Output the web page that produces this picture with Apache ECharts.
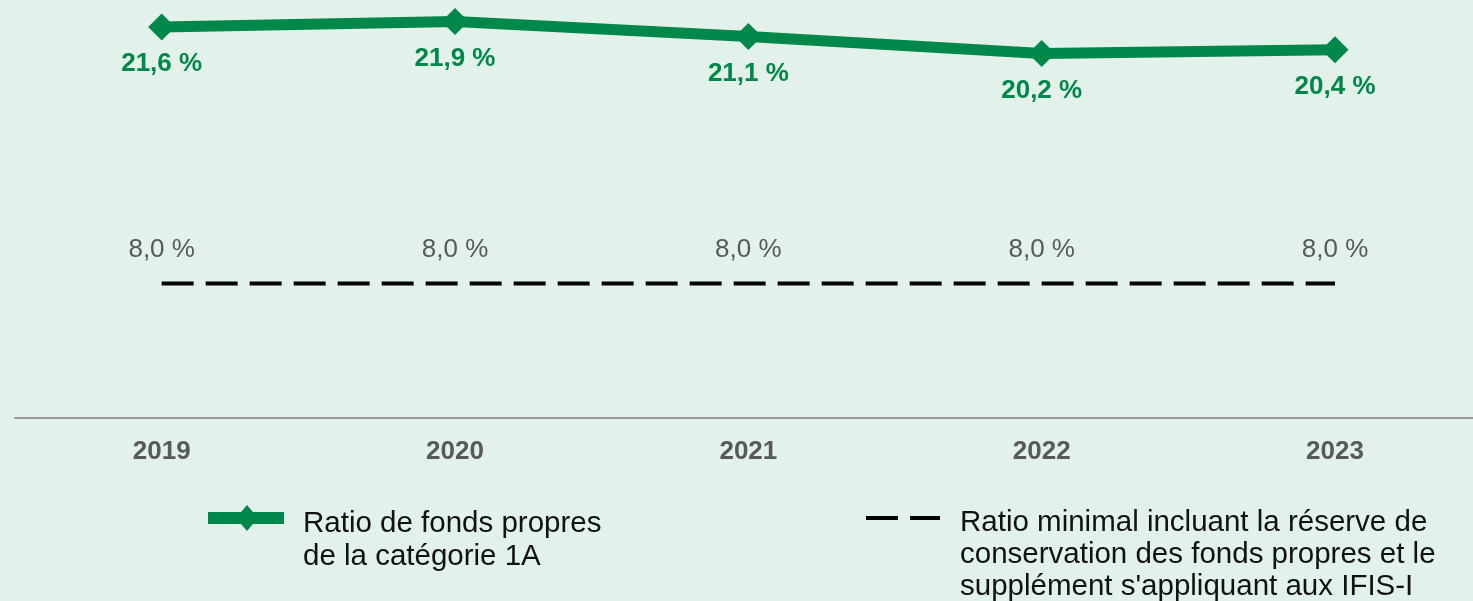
<!DOCTYPE html>
<html>
<head>
<meta charset="utf-8">
<script src="https://cdn.jsdelivr.net/npm/echarts@6/dist/echarts.min.js"></script>
<style>
html,body{margin:0;padding:0;background:#e2f1ea;}
#c{width:1473px;height:601px;}
</style>
</head>
<body>
<div id="c"></div>
<script>
const years = ['2019', '2020', '2021', '2022', '2023'];
const cet1Ratio = [21.6, 21.9, 21.1, 20.2, 20.4];
const minimumRatio = [8.0, 8.0, 8.0, 8.0, 8.0];
const seriesNames = [
  'Ratio de fonds propres\nde la catégorie 1A',
  'Ratio minimal incluant la réserve de\nconservation des fonds propres et le\nsupplément s\'appliquant aux IFIS-I'
];

const GREEN = '#00874a';
const FONT = '"Liberation Sans", Arial, sans-serif';
const fmt = p => p.value.toFixed(1).replace('.', ',') + ' %';

const chart = echarts.init(document.getElementById('c'), null, {renderer: 'canvas'});
chart.setOption({
  backgroundColor: '#e2f1ea',
  animation: false,
  textStyle: {fontFamily: FONT},
  grid: {left: 15, top: 2.6, width: 1466.7, height: 414.8, outerBoundsMode: 'none', containLabel: false},
  xAxis: {
    type: 'category',
    data: years,
    boundaryGap: true,
    axisLine: {lineStyle: {color: '#9a9a9a', width: 2}},
    axisTick: {show: false},
    axisLabel: {color: '#595959', fontWeight: 'bold', fontSize: 26, margin: 21, fontFamily: FONT}
  },
  yAxis: {type: 'value', show: false, min: 0.9, max: 22.9, splitLine: {show: false}},
  series: [
    {
      name: seriesNames[0],
      type: 'line',
      data: cet1Ratio,
      symbol: 'diamond',
      symbolSize: 27,
      lineStyle: {color: GREEN, width: 11},
      itemStyle: {color: GREEN},
      label: {show: true, position: 'bottom', distance: 10.5, formatter: fmt, color: GREEN,
              fontWeight: 'bold', fontSize: 26, fontFamily: FONT}
    },
    {
      name: seriesNames[1],
      type: 'line',
      data: minimumRatio,
      symbol: 'circle',
      symbolSize: 0,
      showSymbol: true,
      lineStyle: {color: '#000', width: 4, type: [32, 12]},
      itemStyle: {color: 'rgba(0,0,0,0)'},
      label: {show: true, position: 'top', distance: 21, formatter: fmt, color: '#595959',
              fontSize: 26, fontFamily: FONT}
    }
  ],
  graphic: [
    {type: 'line', shape: {x1: 208, y1: 518, x2: 284, y2: 518}, style: {stroke: GREEN, lineWidth: 12}},
    {type: 'polygon', shape: {points: [[247, 505], [258, 518], [247, 531], [236, 518]]}, style: {fill: GREEN}},
    {type: 'text', left: 303, top: 507,
     style: {text: seriesNames[0], font: '29.5px ' + FONT, lineHeight: 33, fill: '#111'}},
    {type: 'line', shape: {x1: 866, y1: 518, x2: 940, y2: 518}, style: {stroke: '#000', lineWidth: 4, lineDash: [32, 12]}},
    {type: 'text', left: 960, top: 507,
     style: {text: seriesNames[1], font: '29.5px ' + FONT, lineHeight: 32, fill: '#111'}}
  ]
});
</script>
</body>
</html>
